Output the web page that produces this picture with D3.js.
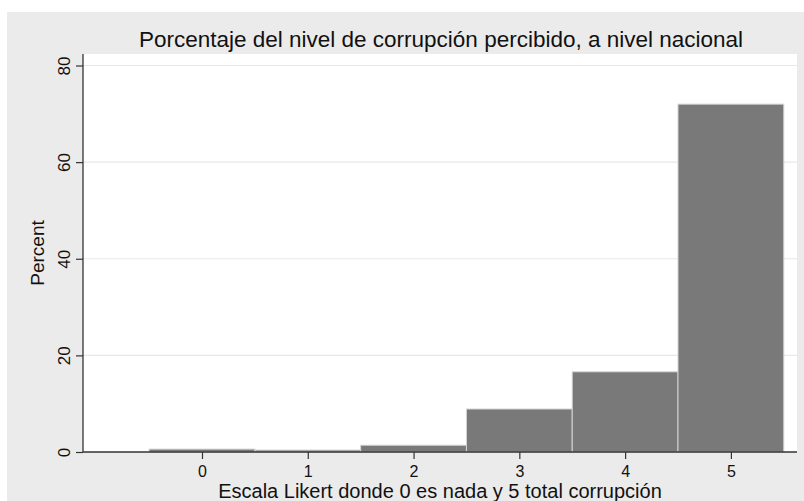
<!DOCTYPE html>
<html><head><meta charset="utf-8">
<script src="https://cdn.jsdelivr.net/npm/d3@7"></script>
<style>body{margin:0;background:#fff}svg{display:block}text{font-family:"Liberation Sans",Arial,Helvetica,sans-serif;fill:#111}</style>
</head><body>
<script>
const categories = [0, 1, 2, 3, 4, 5];
const percents = [0.6, 0.4, 1.4, 8.9, 16.6, 72.0];
const yTicks = [0, 20, 40, 60, 80];
const title = "Porcentaje del nivel de corrupción percibido, a nivel nacional";
const xTitle = "Escala Likert donde 0 es nada y 5 total corrupción";
const yTitle = "Percent";

const W = 804, H = 501;
const svg = d3.select("body").append("svg").attr("width", W).attr("height", H);
svg.append("rect").attr("x", 7).attr("y", 12).attr("width", W - 7).attr("height", H - 12).attr("fill", "#ebebeb");

const plot = {left: 83, right: 797, top: 54, bottom: 452};
svg.append("rect").attr("x", plot.left).attr("y", plot.top).attr("width", plot.right - plot.left).attr("height", plot.bottom - plot.top).attr("fill", "#fff");

const x = d3.scaleLinear().domain([-1.125, 5.625]).range([plot.left, plot.right]);
const y = d3.scaleLinear().domain([0, 80]).range([452, 65.5]);

// grid
svg.append("g").selectAll("line").data(yTicks.filter(d => d > 0)).join("line")
  .attr("x1", plot.left).attr("x2", plot.right).attr("y1", d => y(d)).attr("y2", d => y(d))
  .attr("stroke", "#e8e8e8").attr("stroke-width", 1.2);

// bars
svg.append("g").selectAll("rect").data(categories).join("rect")
  .attr("x", (d) => x(d - 0.5)).attr("width", x(0.5) - x(-0.5))
  .attr("y", (d, i) => y(percents[i])).attr("height", (d, i) => y(0) - y(percents[i]))
  .attr("fill", "#797979").attr("stroke", "#d4d4d4").attr("stroke-width", 1);

// y axis
const yAxis = d3.axisLeft(y).tickValues(yTicks).tickFormat(d3.format("d")).tickSize(7).tickPadding(6);
const gy = svg.append("g").attr("transform", `translate(${plot.left},0)`).call(yAxis);
gy.select(".domain").attr("d", `M0,${plot.top}V${plot.bottom}`).attr("stroke", "#333").attr("stroke-width", 1.3);
gy.selectAll(".tick line").attr("stroke", "#333").attr("stroke-width", 1.2);
gy.selectAll(".tick text").attr("transform", "rotate(-90)").attr("x", 0).attr("y", -13).attr("dy", 0)
  .attr("text-anchor", "middle").style("font-size", "17px").style("font-family", '"Liberation Sans",Arial,sans-serif').attr("fill", "#111");

// x axis
const xAxis = d3.axisBottom(x).tickValues(categories).tickFormat(d3.format("d")).tickSize(7).tickPadding(6);
const gx = svg.append("g").attr("transform", `translate(0,${plot.bottom})`).call(xAxis);
gx.select(".domain").attr("d", `M${plot.left},0H${plot.right}`).attr("stroke", "#333").attr("stroke-width", 1.3);
gx.selectAll(".tick line").attr("stroke", "#333").attr("stroke-width", 1.2);
gx.selectAll(".tick text").attr("y", 25).attr("dy", 0).style("font-size", "16px")
  .style("font-family", '"Liberation Sans",Arial,sans-serif').attr("fill", "#111");

svg.append("text").attr("x", 441).attr("y", 47).attr("text-anchor", "middle").style("font-size", "22.5px").text(title);
svg.append("text").attr("x", 440).attr("y", 498).attr("text-anchor", "middle").style("font-size", "20px").text(xTitle);
svg.append("text").attr("transform", "translate(44,253) rotate(-90)").attr("text-anchor", "middle").style("font-size", "19px").text(yTitle);
</script>
</body></html>
